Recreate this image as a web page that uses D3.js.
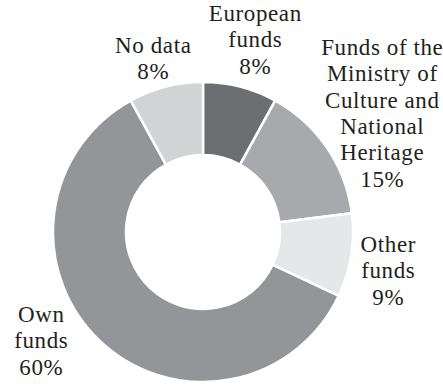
<!DOCTYPE html>
<html>
<head>
<meta charset="utf-8">
<script src="https://cdn.jsdelivr.net/npm/d3@7"></script>
</head>
<body style="margin:0">
<svg id="chart" width="443" height="386"></svg>
<script>
// Funding sources, clockwise from 12 o'clock
const categories = ["European funds", "Funds of the Ministry of Culture and National Heritage", "Other funds", "Own funds", "No data"];
const shares = [8, 15, 9, 60, 8];
const fills = ["#6d6e71", "#a7a9ac", "#e6e7e8", "#939598", "#d1d3d4"];

// Label text broken into lines, with the anchor of each label block
const labelLines = [
  ["European", "funds"],
  ["Funds of the", "Ministry of", "Culture and", "National", "Heritage"],
  ["Other", "funds"],
  ["Own", "funds"],
  ["No data"]
];
const labelAnchors = [[255, 21], [382, 55], [388, 252], [41, 322], [153, 53]];

const cx = 203, cy = 232, outerR = 150, innerR = 77;
const lineH = 26.3;

const svg = d3.select("#chart");
const g = svg.append("g").attr("transform", `translate(${cx},${cy})`);

const pie = d3.pie().sort(null).value(d => d);
const arc = d3.arc().innerRadius(innerR).outerRadius(outerR);
const color = d3.scaleOrdinal().domain(categories).range(fills);

g.selectAll("path")
  .data(pie(shares))
  .join("path")
  .attr("d", arc)
  .attr("fill", (d, i) => color(categories[i]))
  .attr("stroke", "#fff")
  .attr("stroke-width", 2.5)
  .attr("stroke-linejoin", "miter");

// One text element per label line
const lineData = [];
categories.forEach((c, i) => {
  const [x, y] = labelAnchors[i];
  labelLines[i].concat([shares[i] + "%"]).forEach((ln, j) => {
    lineData.push({ text: ln, x: x, y: y + j * lineH });
  });
});

const serifStack = '"Times New Roman", "Liberation Serif", Tinos, Georgia, Times, serif';

svg.selectAll("text.lbl")
  .data(lineData)
  .join("text")
  .attr("class", "lbl")
  .attr("x", d => d.x + 0.3)
  .attr("y", d => d.y)
  .attr("text-anchor", "middle")
  .attr("fill", "#231f20")
  .attr("font-family", serifStack)
  .style("font-family", serifStack)
  .style("font-size", "23px")
  .style("letter-spacing", "0.6px")
  .text(d => d.text);
</script>
</body>
</html>
